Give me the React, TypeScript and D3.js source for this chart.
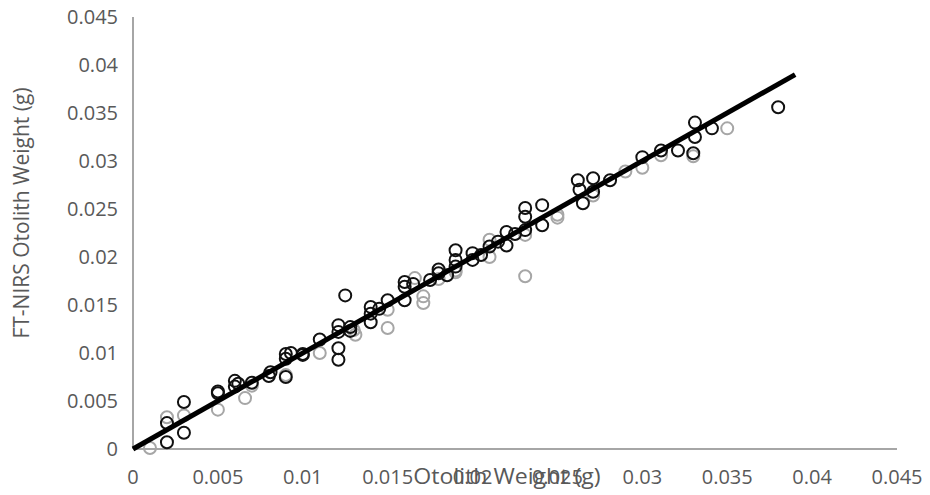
import * as d3 from "d3";
import { useEffect, useRef } from "react";

// black circles (calibration set): [otolith weight, FT-NIRS weight]
const blackX = [0.002, 0.002, 0.003, 0.003, 0.005, 0.005, 0.006, 0.006, 0.0062, 0.007, 0.0081, 0.008, 0.009, 0.009, 0.009, 0.0093, 0.010,
  0.010, 0.011, 0.0121, 0.0121, 0.0121, 0.0121, 0.0125, 0.014, 0.014, 0.014, 0.015, 0.016, 0.016, 0.016, 0.0165, 0.018, 0.018, 0.019,
  0.019, 0.019, 0.020, 0.020, 0.021, 0.022, 0.022, 0.0231, 0.0231, 0.0231, 0.0241, 0.0241, 0.0262, 0.0263, 0.0265, 0.0271, 0.0271,
  0.0281, 0.030, 0.0311, 0.0321, 0.0331, 0.0331, 0.033, 0.0341, 0.038, 0.0128, 0.0145, 0.0175, 0.0185, 0.0205, 0.0215, 0.0225, 0.0128];
const blackY = [0.0007, 0.0027, 0.0049, 0.0017, 0.006, 0.0058, 0.0071, 0.0065, 0.0068, 0.0069, 0.008, 0.0076, 0.0099, 0.0094, 0.0075, 0.010, 0.0099,
  0.0098, 0.0114, 0.0129, 0.0122, 0.0105, 0.0093, 0.016, 0.0148, 0.0141, 0.0132, 0.0155, 0.0174, 0.0169, 0.0155, 0.0172, 0.0183, 0.0187, 0.019,
  0.0207, 0.0197, 0.0204, 0.0197, 0.0211, 0.0226, 0.0212, 0.0251, 0.0242, 0.0228, 0.0254, 0.0233, 0.028, 0.027, 0.0256, 0.0268, 0.0282,
  0.028, 0.0304, 0.0311, 0.0311, 0.034, 0.0325, 0.0308, 0.0334, 0.0356, 0.0127, 0.0146, 0.0176, 0.0181, 0.0202, 0.0216, 0.0224, 0.0123];

// grey circles (validation set)
const greyX = [0.001, 0.002, 0.003, 0.005, 0.0066, 0.007, 0.009, 0.011, 0.013, 0.0131, 0.015, 0.015, 0.0166, 0.0171, 0.0171, 0.018,
  0.019, 0.019, 0.021, 0.021, 0.0231, 0.0231, 0.025, 0.025, 0.0271, 0.029, 0.030, 0.0311, 0.033, 0.035];
const greyY = [0.0001, 0.0033, 0.0035, 0.0041, 0.0053, 0.0066, 0.0077, 0.010, 0.0124, 0.0119, 0.0126, 0.0145, 0.0178, 0.0159, 0.0152, 0.0177,
  0.0184, 0.0186, 0.0218, 0.020, 0.0223, 0.018, 0.0244, 0.0241, 0.0264, 0.0289, 0.0293, 0.0306, 0.0305, 0.0334];

// fitted line end points
const fitX = [0, 0.039];
const fitY = [0, 0.039];

const ticks = [0, 0.005, 0.01, 0.015, 0.02, 0.025, 0.03, 0.035, 0.04, 0.045];

export default function App() {
  const ref = useRef<SVGSVGElement>(null);

  useEffect(() => {
    document.body.style.margin = "0";
    const svg = d3.select(ref.current);
    svg.selectAll("*").remove();

    const x = d3.scaleLinear().domain([0, 0.045]).range([133, 897]);
    const y = d3.scaleLinear().domain([0, 0.045]).range([449, 17]);
    const font = "'Open Sans', sans-serif";
    const textCol = "#595959";

    // axes lines
    svg.append("line").attr("x1", x(0)).attr("x2", x(0)).attr("y1", y(0)).attr("y2", y(0.045))
      .attr("stroke", "#a6a6a6").attr("stroke-width", 2);
    svg.append("line").attr("x1", x(0)).attr("x2", x(0.045)).attr("y1", y(0)).attr("y2", y(0))
      .attr("stroke", "#a6a6a6").attr("stroke-width", 2);

    svg.selectAll(".ylab").data(ticks).enter().append("text")
      .attr("x", 118).attr("y", (d) => y(d)).attr("dy", "0.35em")
      .attr("text-anchor", "end").attr("font-family", font).attr("font-size", 20).attr("fill", textCol)
      .text((d) => String(d));

    svg.selectAll(".xlab").data(ticks).enter().append("text")
      .attr("x", (d) => x(d)).attr("y", 477).attr("dy", "0.35em")
      .attr("text-anchor", "middle").attr("font-family", font).attr("font-size", 20).attr("fill", textCol)
      .text((d) => String(d));

    svg.append("text").attr("transform", "translate(22,213) rotate(-90)")
      .attr("text-anchor", "middle").attr("dy", "0.35em").attr("font-family", font).attr("font-size", 21)
      .attr("fill", textCol).text("FT-NIRS Otolith Weight (g)");

    // x title sits on top of the middle tick labels, as in the original
    svg.append("text").attr("transform", "translate(507,477) scale(1.1,1)").attr("dy", "0.35em")
      .attr("text-anchor", "middle").attr("font-family", font).attr("font-size", 21)
      .attr("fill", textCol).text("Otolith Weight (g)");

    const grey = greyX.map((v, i) => [v, greyY[i]]);
    const black = blackX.map((v, i) => [v, blackY[i]]);

    svg.append("g").selectAll("circle").data(grey).enter().append("circle")
      .attr("cx", (d) => x(d[0])).attr("cy", (d) => y(d[1])).attr("r", 6)
      .attr("fill", "none").attr("stroke", "#a6a6a6").attr("stroke-width", 2);

    svg.append("g").selectAll("circle").data(black).enter().append("circle")
      .attr("cx", (d) => x(d[0])).attr("cy", (d) => y(d[1])).attr("r", 6)
      .attr("fill", "none").attr("stroke", "#111").attr("stroke-width", 2);

    const line = d3.line<number>().x((d) => x(d)).y((d, i) => y(fitY[i]));
    svg.append("path").attr("d", line(fitX)).attr("stroke", "#000").attr("stroke-width", 5)
      .attr("fill", "none");
  }, []);

  return <svg ref={ref} width={930} height={495} style={{ display: "block", background: "#fff" }} />;
}
